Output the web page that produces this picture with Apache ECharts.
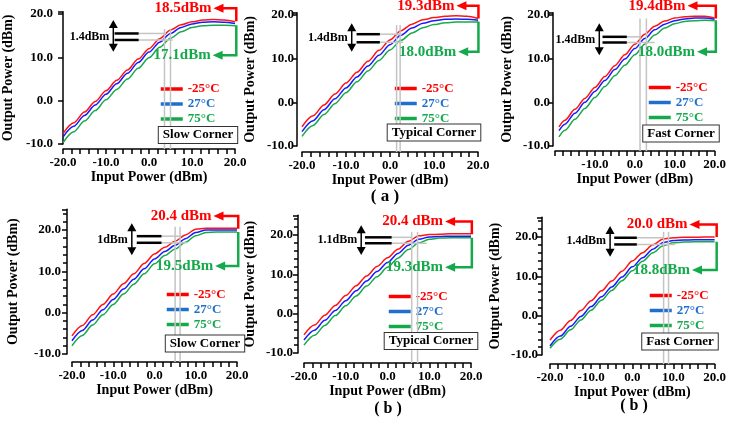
<!DOCTYPE html>
<html>
<head>
<meta charset="utf-8">
<title>Output power vs input power, three corners</title>
<script src="https://cdn.jsdelivr.net/npm/echarts@6/dist/echarts.min.js"></script>
<style>body{margin:0;background:#fff;}</style>
</head>
<body>
<div id="main" style="width:729px;height:422px;"></div>
<script>
// input power sweep (dBm)
var pin     = [-20, -17.5, -15, -12.5, -10, -7.5, -5, -2.5, 0, 2.5, 5, 7.5, 10, 12.5, 15, 17.5, 20];
var pinFast = [-19, -17.5, -15, -12.5, -10, -7.5, -5, -2.5, 0, 2.5, 5, 7.5, 10, 12.5, 15, 17.5, 20];
var tempNames = ['-25°C', '27°C', '75°C'];

// (a) output power, dBm
var aSlowCold = [-7.6, -5.1, -2.6, -0.2, 2.3, 4.7, 7.1, 9.6, 12.0, 14.3, 16.3, 17.5, 18.2, 18.6, 18.7, 18.6, 18.2];
var aSlowRoom = [-8.4, -5.9, -3.4, -1.0, 1.5, 3.9, 6.3, 8.8, 11.2, 13.5, 15.5, 16.9, 17.7, 18.1, 18.2, 18.1, 17.8];
var aSlowHot  = [-9.7, -7.2, -4.7, -2.3, 0.2, 2.6, 5.0, 7.5, 9.9, 12.3, 14.4, 15.9, 16.9, 17.3, 17.4, 17.4, 17.3];
var aTypCold  = [-5.6, -3.1, -0.6, 1.9, 4.4, 6.9, 9.4, 11.9, 14.3, 16.4, 17.9, 18.9, 19.4, 19.7, 19.8, 19.7, 19.2];
var aTypRoom  = [-6.7, -4.2, -1.7, 0.8, 3.3, 5.8, 8.3, 10.8, 13.2, 15.4, 17.0, 18.1, 18.7, 19.0, 19.1, 19.0, 18.8];
var aTypHot   = [-7.8, -5.3, -2.8, -0.3, 2.2, 4.7, 7.2, 9.6, 12.0, 14.2, 15.9, 17.1, 17.8, 18.2, 18.4, 18.4, 18.4];
var aFastCold = [-5.6, -4.1, -1.6, 0.9, 3.4, 5.9, 8.4, 10.9, 13.3, 15.6, 17.4, 18.6, 19.3, 19.6, 19.7, 19.7, 19.3];
var aFastRoom = [-6.5, -5.0, -2.5, 0.0, 2.5, 5.0, 7.5, 9.9, 12.3, 14.6, 16.6, 17.9, 18.7, 19.1, 19.3, 19.3, 19.0];
var aFastHot  = [-7.9, -6.4, -3.9, -1.4, 1.1, 3.6, 6.1, 8.5, 10.9, 13.3, 15.4, 17.0, 18.0, 18.5, 18.7, 18.8, 18.7];

// (b) output power, dBm
var bSlowCold = [-5.6, -3.1, -0.5, 2.0, 4.5, 7.0, 9.4, 11.9, 14.2, 15.8, 17.3, 18.8, 20.2, 20.4, 20.4, 20.4, 20.4];
var bSlowRoom = [-6.8, -4.3, -1.8, 0.7, 3.2, 5.7, 8.1, 10.6, 13.0, 14.8, 16.3, 17.9, 19.4, 20.0, 20.0, 20.0, 20.0];
var bSlowHot  = [-8.0, -5.5, -3.0, -0.5, 2.0, 4.5, 6.9, 9.4, 11.8, 13.8, 15.4, 17.0, 18.6, 19.4, 19.5, 19.5, 19.5];
var bTypCold  = [-5.4, -2.9, -0.4, 2.1, 4.6, 7.1, 9.6, 12.0, 14.2, 16.4, 18.4, 19.8, 20.1, 20.2, 20.3, 20.3, 20.3];
var bTypRoom  = [-6.7, -4.2, -1.7, 0.8, 3.3, 5.8, 8.3, 10.7, 13.0, 15.3, 17.4, 18.9, 19.5, 19.6, 19.7, 19.7, 19.7];
var bTypHot   = [-8.0, -5.5, -3.0, -0.5, 2.0, 4.5, 7.0, 9.4, 11.8, 14.1, 16.3, 18.0, 18.9, 19.2, 19.3, 19.3, 19.3];
var bFastCold = [-6.2, -3.7, -1.2, 1.3, 3.8, 6.3, 8.8, 11.3, 13.9, 16.0, 18.0, 19.5, 19.8, 19.9, 19.9, 20.0, 20.0];
var bFastRoom = [-7.7, -5.2, -2.7, -0.2, 2.3, 4.8, 7.3, 9.8, 12.4, 14.7, 16.9, 18.6, 19.1, 19.2, 19.3, 19.3, 19.3];
var bFastHot  = [-8.3, -6.0, -3.6, -1.1, 1.4, 3.9, 6.4, 8.9, 11.4, 13.8, 16.0, 17.8, 18.5, 18.7, 18.8, 18.8, 18.8];

// annotations (data units): P1dB guides, spread arrows, max/min callouts
var annA1 = {v: [3.6, 5.0], vTop: 16.5, h: [[15.5, 4.0], [14.0, 5.5]], bar: [-8.0, -2.4], arrX: -8.3, arrY: [18.6, 11.3], dTxt: '1.4dBm',
  hiTxt: '18.5dBm', hiY: 21.3, hiTip: 15.0, cornerX: 20.3, hiEnd: 18.3, loTxt: '17.1dBm', loY: 10.5, loTip: 14.8, loStart: 17.4};
var annA2 = {v: [1.5, 2.3], vTop: 17.7, h: [[15.6, 2.7], [13.75, 3.0]], bar: [-7.6, -2.3], arrX: -8.7, arrY: [18.1, 11.6], dTxt: '1.4dBm',
  hiTxt: '19.3dBm', hiY: 22.1, hiTip: 15.1, cornerX: 20.1, hiEnd: 19.2, loTxt: '18.0dBm', loY: 11.6, loTip: 15.5, loStart: 18.5};
var annA3 = {v: [1.3, 2.9], vTop: 19.2, h: [[15.0, 1.5], [13.7, 5.0]], bar: [-8.1, -2.0], arrX: -8.9, arrY: [18.1, 10.8], dTxt: '1.4dBm',
  hiTxt: '19.4dBm', hiY: 22.1, hiTip: 13.2, cornerX: 20.3, hiEnd: 19.2, loTxt: '18.0dBm', loY: 11.6, loTip: 15.6, loStart: 18.8};
var annB1 = {v: [5.0, 6.2], vTop: 20.8, h: [[18.5, 6.2], [16.9, 7.8]], bar: [-4.3, 1.7], arrX: -5.5, arrY: [21.6, 13.9], dTxt: '1dBm',
  hiTxt: '20.4 dBm', hiY: 23.4, hiTip: 14.3, cornerX: 20.3, hiEnd: 20.3, loTxt: '19.5dBm', loY: 11.3, loTip: 14.7, loStart: 19.5};
var annB2 = {v: [5.8, 7.2], vTop: 20.8, h: [[19.4, 5.8], [17.9, 9.4]], bar: [-5.4, 1.0], arrX: -6.3, arrY: [22.5, 14.9], dTxt: '1.1dBm',
  hiTxt: '20.4 dBm', hiY: 23.4, hiTip: 13.8, cornerX: 20.2, hiEnd: 20.2, loTxt: '19.3dBm', loY: 11.8, loTip: 13.8, loStart: 19.3};
var annB3 = {v: [7.6, 8.8], vTop: 21.3, h: [[19.8, 7.6], [18.1, 10.4]], bar: [-4.4, 1.1], arrX: -5.4, arrY: [22.8, 15.0], dTxt: '1.4dBm',
  hiTxt: '20.0 dBm', hiY: 23.2, hiTip: 13.9, cornerX: 20.5, hiEnd: 20.0, loTxt: '18.8dBm', loY: 11.6, loTip: 14.5, loStart: 18.8};

var serif = '"Liberation Serif", "Times New Roman", serif';
var lineColors = ['#ff1414', '#1a1aff', '#19a84a'];
var keyColors = ['#ff0000', '#1f6fcf', '#14a94b'];

var panels = [
  {x: pin, c: [aSlowCold, aSlowRoom, aSlowHot], corner: 'Slow Corner', yMax: 20.5, minor: false, grid: [61, 11.8, 174, 132.2],
    xOff: 5, yOff: 0, yMargin: 10, yGap: 48, xGap: 20, hideMin: false, legend: [159, 82.5], box: [198, 135], ann: annA1},
  {x: pin, c: [aTypCold, aTypRoom, aTypHot], corner: 'Typical Corner', yMax: 20.5, minor: false, grid: [302, 12.8, 176, 133.2],
    xOff: 6, yOff: 5, yMargin: 3, yGap: 40, xGap: 19, hideMin: false, legend: [393, 82], box: [434, 132.5], ann: annA2},
  {x: pinFast, c: [aFastCold, aFastRoom, aFastHot], corner: 'Fast Corner', yMax: 20.5, minor: false, grid: [555, 12.8, 163, 133.2],
    xOff: 5, yOff: 2, yMargin: 3, yGap: 39, xGap: 19, hideMin: true, legend: [647, 81], box: [681, 133.5], ann: annA3},
  {x: pin, c: [bSlowCold, bSlowRoom, bSlowHot], corner: 'Slow Corner', yMax: 25, minor: true, grid: [72, 209.3, 165, 144.7],
    xOff: 8, yOff: 5, yMargin: 6, yGap: 47, xGap: 21, hideMin: false, legend: [165, 288], box: [205, 343.5], ann: annB1},
  {x: pin, c: [bTypCold, bTypRoom, bTypHot], corner: 'Typical Corner', yMax: 25, minor: true, grid: [304, 215.3, 167, 137.7],
    xOff: 10, yOff: 6, yMargin: 5, yGap: 41, xGap: 18, hideMin: false, legend: [387, 290], box: [431, 341], ann: annB2},
  {x: pin, c: [bFastCold, bFastRoom, bFastHot], corner: 'Fast Corner', yMax: 25, minor: true, grid: [550, 217.3, 169, 137.7],
    xOff: 9, yOff: 8, yMargin: 4, yGap: 40, xGap: 18, hideMin: false, legend: [648, 289], box: [680, 341.5], ann: annB3}
];

var myChart = echarts.init(document.getElementById('main'));

var grids = [], xAxes = [], yAxes = [], legends = [], series = [];
var axisLine = {onZero: false, lineStyle: {color: '#000', width: 1.5}};
var labelFont = {color: '#000', fontFamily: serif, fontWeight: 'bold', fontSize: 13};
var nameFont = {color: '#000', fontFamily: serif, fontWeight: 'bold', fontSize: 14};

panels.forEach(function (p, i) {
  grids.push({left: p.grid[0], top: p.grid[1], width: p.grid[2], height: p.grid[3]});
  xAxes.push({
    gridIndex: i, type: 'value', min: -20, max: 20, interval: 10, offset: p.xOff,
    axisLine: axisLine,
    axisTick: {length: 5, lineStyle: {color: '#000', width: 1.5}},
    minorTick: {show: true, splitNumber: 5, length: 5, lineStyle: {color: '#000', width: 1.5}},
    splitLine: {show: false},
    axisLabel: Object.assign({margin: 7, showMinLabel: !p.hideMin, formatter: function (v) { return v.toFixed(1); }}, labelFont),
    name: 'Input Power (dBm)', nameLocation: 'middle', nameGap: p.xGap, nameTextStyle: nameFont
  });
  yAxes.push({
    gridIndex: i, type: 'value', min: -10, max: p.yMax, interval: 10, offset: p.yOff,
    axisLine: axisLine,
    axisTick: {length: 5, lineStyle: {color: '#000', width: 1.5}},
    minorTick: {show: p.minor, splitNumber: 5, length: 4, lineStyle: {color: '#000', width: 1.5}},
    splitLine: {show: false},
    axisLabel: Object.assign({margin: p.yMargin, formatter: function (v) { return v % 10 === 0 ? v.toFixed(1) : ''; }}, labelFont),
    name: 'Output Power (dBm)', nameLocation: 'middle', nameGap: p.yGap, nameTextStyle: nameFont
  });
  legends.push({
    orient: 'vertical', left: p.legend[0], top: p.legend[1], padding: 0, itemGap: 2,
    itemWidth: 22, itemHeight: 3, selectedMode: false,
    textStyle: {fontFamily: serif, fontWeight: 'bold', fontSize: 13, lineHeight: 13},
    data: tempNames.map(function (n, k) {
      return {name: n, itemStyle: {color: keyColors[k], borderWidth: 0},
        lineStyle: {color: keyColors[k], width: 3.5}, textStyle: {color: keyColors[k]}};
    })
  });
  p.c.forEach(function (vals, k) {
    series.push({
      type: 'line', name: tempNames[k], xAxisIndex: i, yAxisIndex: i,
      data: p.x.map(function (x, j) { return [x, vals[j]]; }),
      symbol: 'none', smooth: 0.3, smoothMonotone: 'x', animation: false,
      lineStyle: {color: lineColors[k], width: 1.5}, itemStyle: {color: lineColors[k]}
    });
  });
});

myChart.setOption({
  backgroundColor: '#fff',
  animation: false,
  grid: grids, xAxis: xAxes, yAxis: yAxes, legend: legends, series: series
});

// annotations placed through the axes' own scales
var g = [];
function seg(a, b, color, w) {
  g.push({type: 'line', silent: true, z: 50, shape: {x1: a[0], y1: a[1], x2: b[0], y2: b[1]}, style: {stroke: color, lineWidth: w}});
}
function poly(pts, color, w) {
  g.push({type: 'polyline', silent: true, z: 50, shape: {points: pts}, style: {stroke: color, lineWidth: w, fill: null}});
}
function tri(pts, color) {
  g.push({type: 'polygon', silent: true, z: 51, shape: {points: pts}, style: {fill: color}});
}
function txt(s, x, y, align, size, color, extra) {
  var st = {text: s, x: x, y: y, align: align, verticalAlign: 'middle', fill: color,
    fontFamily: serif, fontWeight: 'bold', fontSize: size};
  if (extra) Object.assign(st, extra);
  g.push({type: 'text', silent: true, z: 60, style: st});
}

panels.forEach(function (p, i) {
  var a = p.ann;
  var px = function (x, y) { return myChart.convertToPixel({gridIndex: i}, [x, y]); };
  var axisY = px(0, -10)[1] + p.xOff;
  // grey P1dB guides
  a.v.forEach(function (vx) {
    var top = px(vx, a.vTop);
    seg(top, [top[0], axisY], '#c4c4c4', 1.5);
  });
  a.h.forEach(function (hl) {
    seg(px(a.bar[1], hl[0]), px(hl[1], hl[0]), '#c4c4c4', 1.5);
    seg(px(a.bar[0], hl[0]), px(a.bar[1], hl[0]), '#000', 2.5);
  });
  // double arrow with spread label
  var t = px(a.arrX, a.arrY[0]), b = px(a.arrX, a.arrY[1]);
  seg([t[0], t[1] + 6], [b[0], b[1] - 6], '#000', 1.5);
  tri([[t[0], t[1]], [t[0] - 4.5, t[1] + 8], [t[0] + 4.5, t[1] + 8]], '#000');
  tri([[b[0], b[1]], [b[0] - 4.5, b[1] - 8], [b[0] + 4.5, b[1] - 8]], '#000');
  var mid = (px(0, a.h[0][0])[1] + px(0, a.h[1][0])[1]) / 2;
  txt(a.dTxt, t[0] - 4, mid, 'right', 12, '#000');
  // red max callout
  var rt = px(a.hiTip, a.hiY), rc = px(a.cornerX, a.hiY), re = px(a.cornerX, a.hiEnd);
  poly([[rt[0] + 9, rt[1]], rc, re], '#ff0000', 2.5);
  tri([[rt[0], rt[1]], [rt[0] + 10, rt[1] - 4.5], [rt[0] + 10, rt[1] + 4.5]], '#ff0000');
  txt(a.hiTxt, rt[0] - 2, rt[1], 'right', 15, '#ff0000');
  // green min callout
  var gs = px(a.cornerX, a.loStart), gc = px(a.cornerX, a.loY), gt = px(a.loTip, a.loY);
  poly([gs, gc, [gt[0] + 9, gt[1]]], '#14a94b', 2.5);
  tri([[gt[0], gt[1]], [gt[0] + 10, gt[1] - 4.5], [gt[0] + 10, gt[1] + 4.5]], '#14a94b');
  txt(a.loTxt, gt[0] - 2, gt[1], 'right', 15, '#14a94b');
  // corner box
  txt(p.corner, p.box[0], p.box[1], 'center', 13, '#000',
    {backgroundColor: '#fff', borderColor: '#333', borderWidth: 1, padding: [2, 4, 1, 4]});
});

txt('( a )', 385, 197, 'center', 17, '#000');
txt('( b )', 388, 409, 'center', 16, '#000');
txt('( b )', 634, 406, 'center', 16, '#000');

myChart.setOption({graphic: g});
</script>
</body>
</html>
